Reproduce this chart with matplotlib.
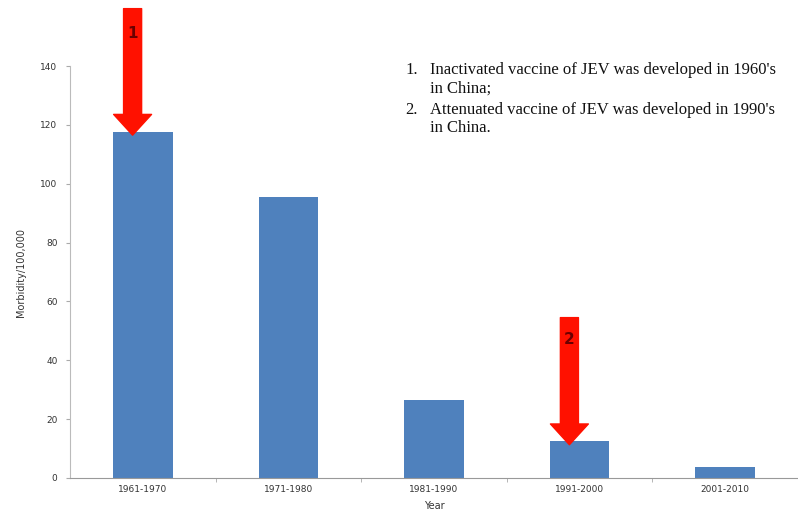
import matplotlib.pyplot as plt
import numpy as np

periods = ['1961-1970', '1971-1980', '1981-1990', '1991-2000', '2001-2010']
morbidity = [117.6, 95.5, 26.5, 12.6, 3.7]
yticks = [0, 20, 40, 60, 80, 100, 120, 140]
note_nums = ['1.', '2.']
note_lines = [["Inactivated vaccine of JEV was developed in 1960's", "in China;"],
              ["Attenuated vaccine of JEV was developed in 1990's", "in China."]]

W, H = 798, 511
fig = plt.figure(figsize=(W / 100, H / 100), dpi=100)
ax = fig.add_axes([0.0877, 0.0646, 0.9123, 0.8062])

x = np.arange(len(periods))
ax.bar(x, morbidity, width=0.41, color='#4F81BD', zorder=2)

ax.set_xlim(-0.5, 4.5)
ax.set_ylim(0, 140)
ax.set_yticks(yticks)
ax.set_xticks(x)
ax.set_xticklabels(periods, fontsize=6.5, color='#333333')
ax.set_xticks(np.arange(0.5, 4.5, 1), minor=True)
ax.tick_params(axis='x', which='major', length=0, pad=5)
ax.tick_params(axis='x', which='minor', length=3, color='#aaaaaa')
ax.tick_params(axis='y', labelsize=6.5, labelcolor='#333333', length=3,
               color='#aaaaaa', pad=6)

for s in ['top', 'right']:
    ax.spines[s].set_visible(False)
ax.spines['left'].set_color('#bbbbbb')
ax.spines['bottom'].set_color('#999999')

ax.set_ylabel('Morbidity/100,000', fontsize=7, color='#333333', labelpad=10)
ax.set_xlabel('Year', fontsize=7, color='#333333', labelpad=5)

# red arrows marking when each vaccine came in
arrow_style = 'simple,head_length=1.15,head_width=2.1,tail_width=1.0'
ax.annotate('', xy=(-0.07, 116.5), xytext=(-0.07, 159.5),
            arrowprops=dict(arrowstyle=arrow_style, mutation_scale=13,
                            color='#ff1100', shrinkA=0, shrinkB=0),
            annotation_clip=False)
ax.text(-0.07, 151, '1', ha='center', va='center', fontsize=11,
        fontweight='bold', color='#6b0000', clip_on=False)

ax.annotate('', xy=(2.93, 11.3), xytext=(2.93, 54.5),
            arrowprops=dict(arrowstyle=arrow_style, mutation_scale=13,
                            color='#ff1100', shrinkA=0, shrinkB=0),
            annotation_clip=False)
ax.text(2.93, 47, '2', ha='center', va='center', fontsize=11,
        fontweight='bold', color='#6b0000')

# numbered notes, placed in pixel rows
rows = [[70, 89], [110, 128]]
for num, lines, ys in zip(note_nums, note_lines, rows):
    fig.text(405 / W, 1 - ys[0] / H, num, family='Liberation Serif',
             fontsize=12, va='center', ha='left', color='#111111')
    for line, yy in zip(lines, ys):
        fig.text(430 / W, 1 - yy / H, line, family='Liberation Serif',
                 fontsize=12, va='center', ha='left', color='#111111')

fig.savefig('out.png', dpi=100)
